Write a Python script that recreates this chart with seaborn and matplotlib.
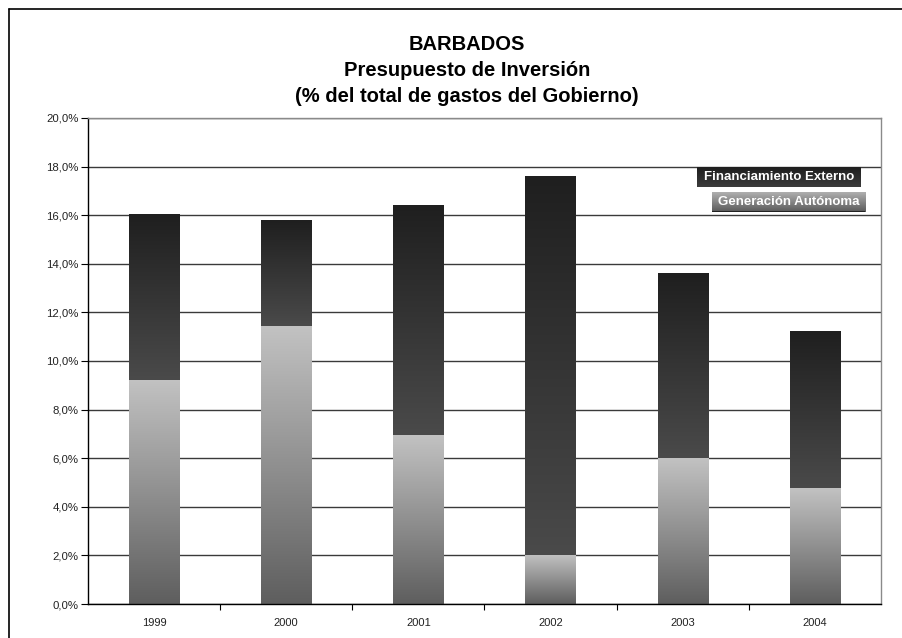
import numpy as np
import pandas as pd
import matplotlib
matplotlib.use("Agg")
import matplotlib.pyplot as plt
import seaborn as sns
from matplotlib.colors import LinearSegmentedColormap
from matplotlib.lines import Line2D
from matplotlib.ticker import FixedLocator, FuncFormatter, MultipleLocator

# Investment budget of Barbados, % of total government spending
years = ["1999", "2000", "2001", "2002", "2003", "2004"]
generacion_autonoma = [9.22, 11.44, 6.95, 2.02, 6.00, 4.77]
financiamiento_externo = [6.83, 4.36, 9.43, 15.59, 7.58, 6.46]
series_labels = ["Financiamiento Externo", "Generación Autónoma"]

df = pd.DataFrame({
    "year": years,
    "gen": generacion_autonoma,
    "fin": financiamiento_externo,
})
df["total"] = df["gen"] + df["fin"]

sns.set_theme(style="white")
plt.rcParams["font.family"] = ["Liberation Sans", "DejaVu Sans"]

fig = plt.figure(figsize=(9.03, 6.38), dpi=100)
ax = fig.add_axes([88 / 903, 1 - 604 / 638, 793 / 903, 486 / 638])

bar_w = 0.38
sns.barplot(data=df, x="year", y="total", color="#333333", width=bar_w,
            ax=ax, zorder=2, saturation=1)
n_tot = len(ax.patches)
sns.barplot(data=df, x="year", y="gen", color="#999999", width=bar_w,
            ax=ax, zorder=2, saturation=1)
tot_patches = ax.patches[:n_tot]
gen_patches = ax.patches[n_tot:]

grad = np.linspace(0, 1, 256).reshape(-1, 1)
cmap_gen = LinearSegmentedColormap.from_list("gen", ["#5e5e5e", "#c2c2c2"])
cmap_fin = LinearSegmentedColormap.from_list("fin", ["#4a4a4a", "#1f1f1f"])

for tp, gp in zip(tot_patches, gen_patches):
    x0, w = gp.get_x(), gp.get_width()
    g_top = gp.get_height()
    t_top = tp.get_height()
    ax.imshow(grad, cmap=cmap_gen, origin="lower", aspect="auto",
              extent=[x0, x0 + w, 0, g_top], zorder=3, interpolation="bicubic")
    ax.imshow(grad, cmap=cmap_fin, origin="lower", aspect="auto",
              extent=[x0, x0 + w, g_top, t_top], zorder=3, interpolation="bicubic")
    tp.set_visible(False)
    gp.set_visible(False)

ax.set_xlim(-0.5, len(years) - 0.5)
ax.set_ylim(0, 20)
ax.set_xlabel("")
ax.set_ylabel("")

# gridlines
ax.yaxis.set_major_locator(MultipleLocator(2))
ax.yaxis.set_major_formatter(FuncFormatter(lambda v, _: f"{v:.1f}%".replace(".", ",")))
ax.grid(axis="y", color="#3a3a3a", linewidth=1.0, zorder=1)
ax.grid(axis="x", visible=False)
ax.set_axisbelow(True)

# spines
for side in ["left", "bottom"]:
    ax.spines[side].set_color("black")
    ax.spines[side].set_linewidth(1.0)
for side in ["top", "right"]:
    ax.spines[side].set_color("#8a8a8a")
    ax.spines[side].set_linewidth(1.0)
for s in ax.spines.values():
    s.set_zorder(4)

ax.tick_params(axis="y", which="major", direction="out", length=5, width=0.8,
               color="black", labelsize=8.2, pad=2, left=True, labelcolor="#222222")
ax.tick_params(axis="x", which="major", length=0, labelsize=8, pad=10,
               labelcolor="#222222")
ax.xaxis.set_minor_locator(FixedLocator(np.arange(0.5, len(years) - 0.5, 1)))
ax.tick_params(axis="x", which="minor", direction="out", length=4, width=0.8,
               color="black", bottom=True)

# legend boxes
def legend_box(rect, text, colors):
    lax = ax.inset_axes(rect)
    cm = LinearSegmentedColormap.from_list("lg", colors)
    lax.imshow(grad, cmap=cm, origin="lower", aspect="auto",
               extent=[0, 1, 0, 1], interpolation="bicubic")
    lax.set_xlim(0, 1)
    lax.set_ylim(0, 1)
    lax.axis("off")
    lax.set_zorder(6)
    lax.text(0.5, 0.5, text, ha="center", va="center", color="white",
             fontsize=9.5, fontweight="bold")
    return lax

legend_box([(697 - 88) / 793, (604 - 187) / 486, 164 / 793, 20 / 486],
           series_labels[0], ["#3c3c3c", "#1e1e1e"])
lb2 = legend_box([(712 - 88) / 793, (604 - 212) / 486, 153 / 793, 20 / 486],
                 series_labels[1], ["#5a5a5a", "#b4b4b4"])
lb2.axhline(0.02, color="#222222", linewidth=1.5)

# title
title_lines = ["BARBADOS", "Presupuesto de Inversión",
               "(% del total de gastos del Gobierno)"]
for i, line in enumerate(title_lines):
    fig.text(467 / 903, 1 - (44 + 26 * i) / 638, line, ha="center",
             va="center", fontsize=14.5, fontweight="bold", color="black")

# outer frame
fig.add_artist(Line2D([8.5 / 903, 8.5 / 903], [1 - 8.5 / 638, 0],
                      transform=fig.transFigure, color="black", linewidth=1.2))
fig.add_artist(Line2D([8.5 / 903, 1], [1 - 8.5 / 638, 1 - 8.5 / 638],
                      transform=fig.transFigure, color="black", linewidth=1.2))

fig.savefig("out.png", dpi=100)
